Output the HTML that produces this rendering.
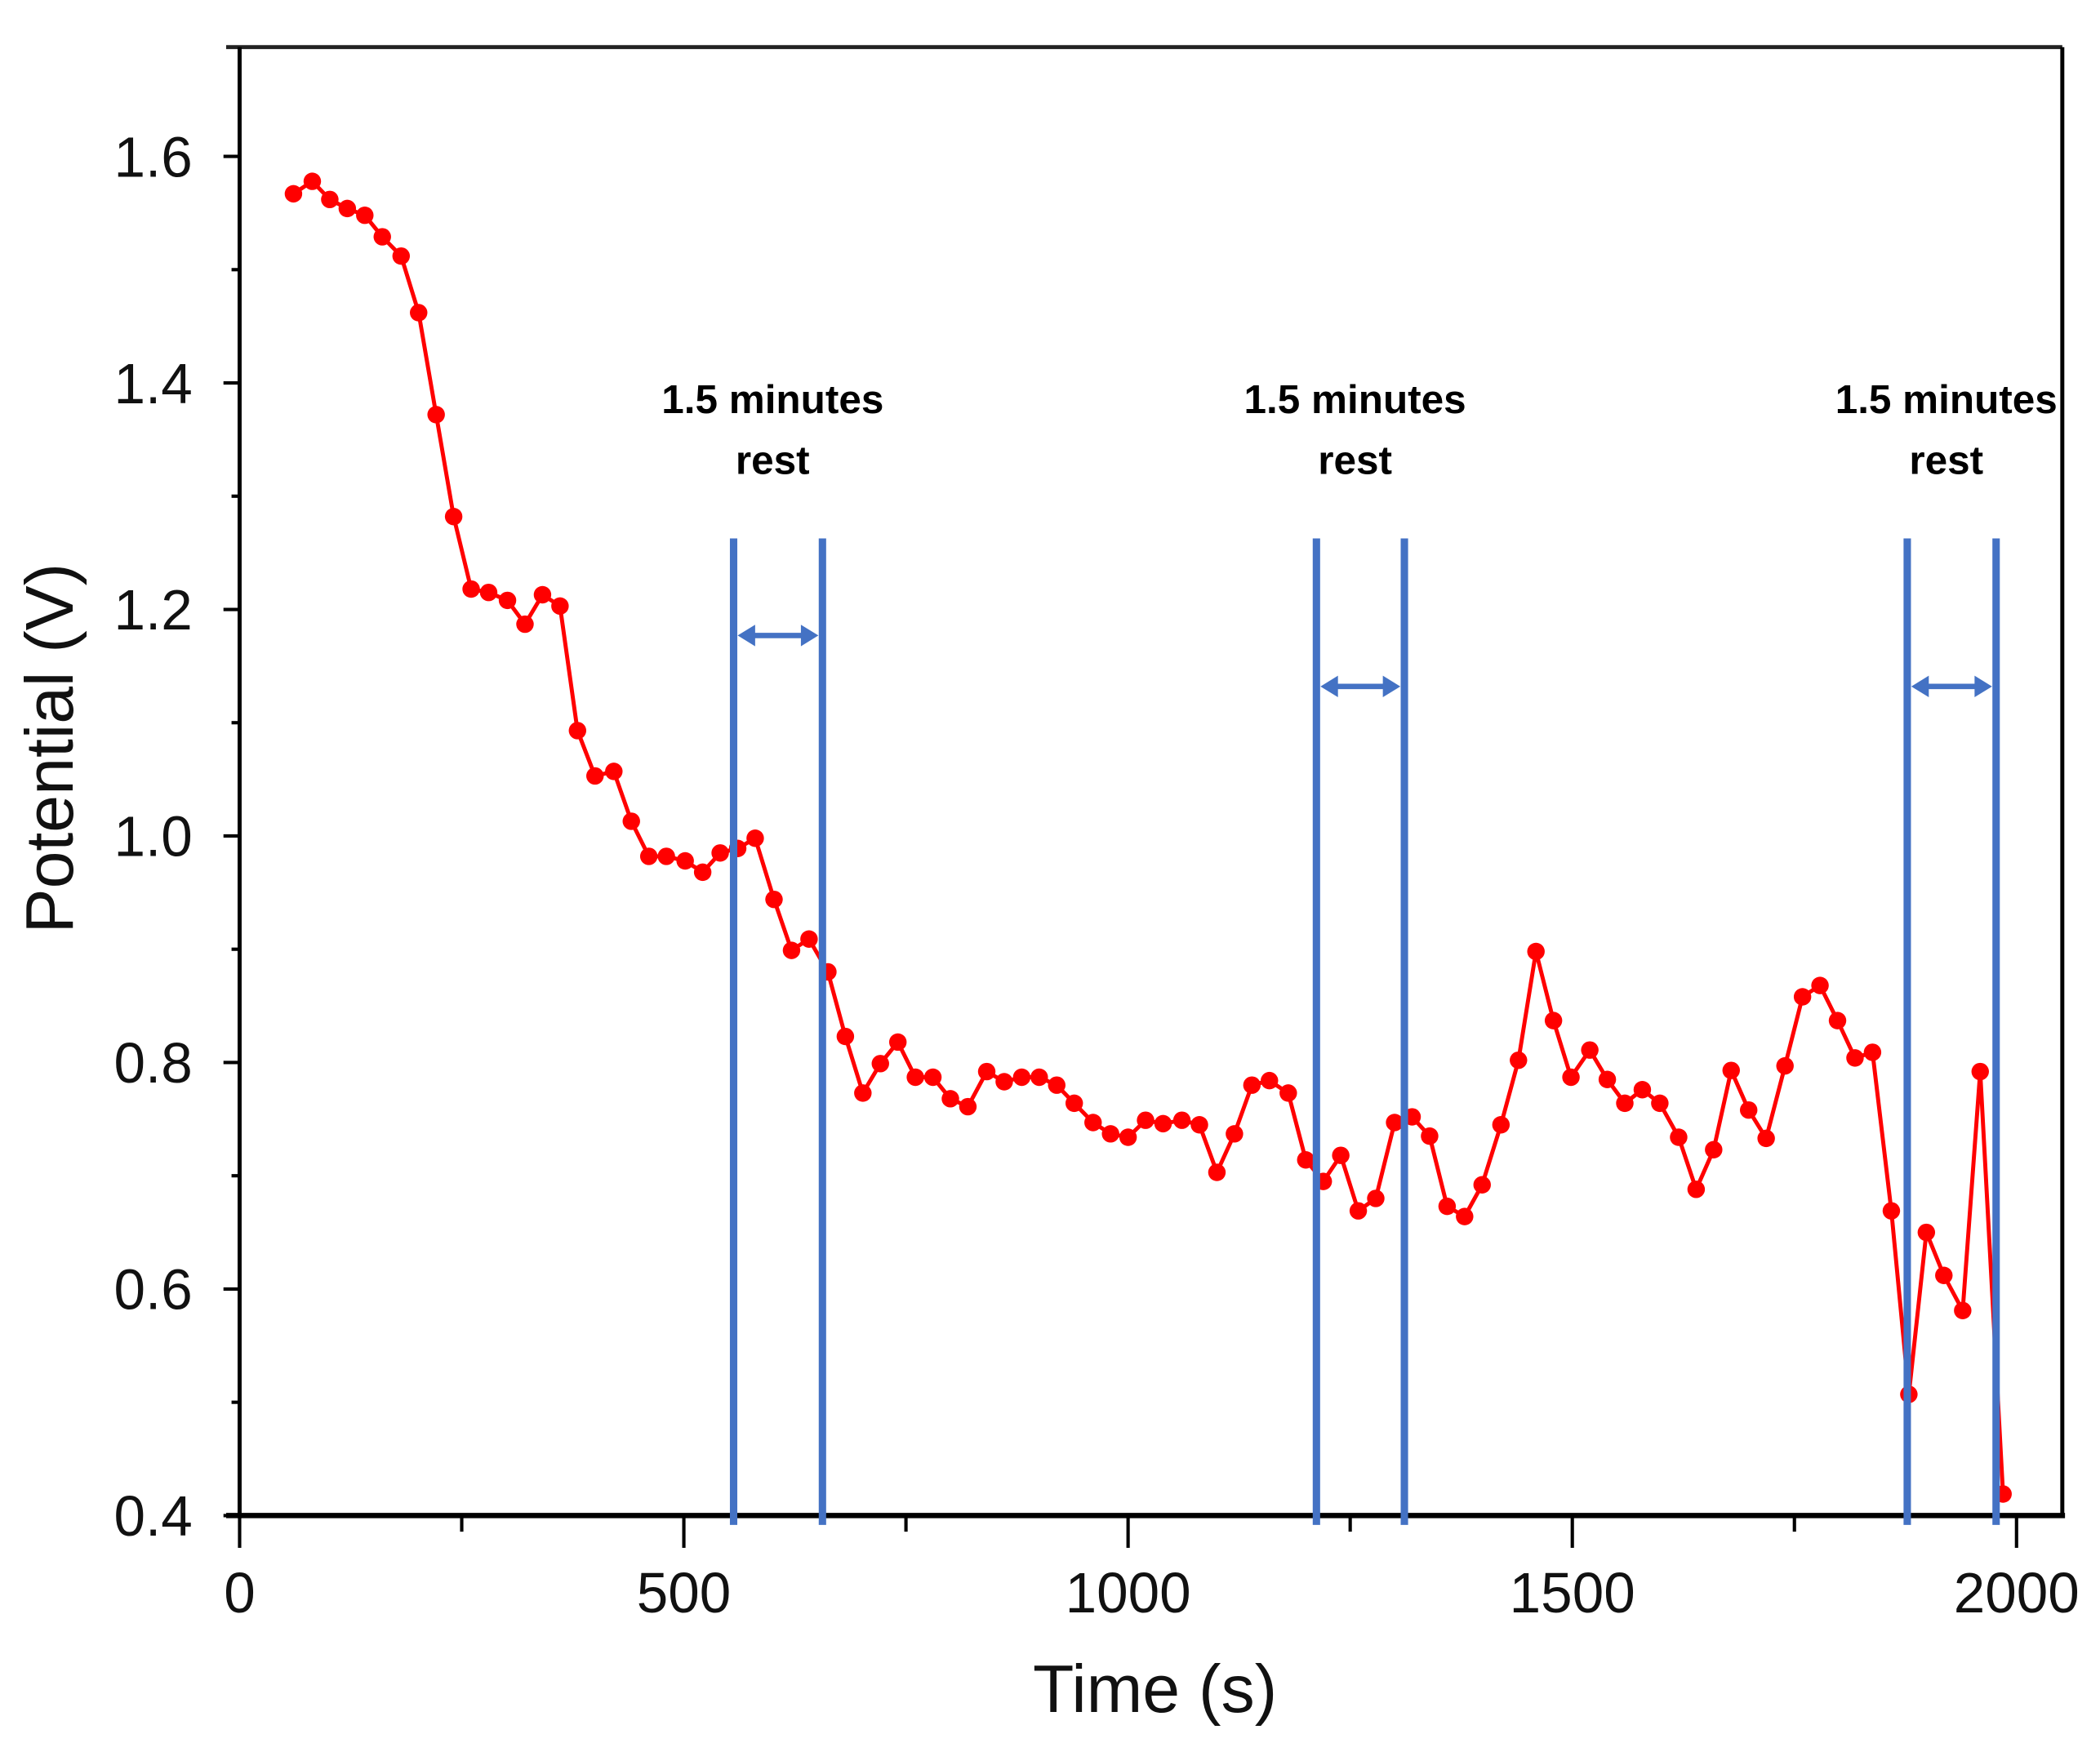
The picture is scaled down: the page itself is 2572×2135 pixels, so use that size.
<!DOCTYPE html>
<html><head><meta charset="utf-8">
<style>html,body{margin:0;padding:0;background:#fff;}svg{display:block;}</style>
</head><body>
<svg id="chart" width="2572" height="2135" viewBox="0 0 1560 1295" preserveAspectRatio="none" xmlns="http://www.w3.org/2000/svg">
<g id="marks"></g>
</svg>
<script>
const times = [60.6,81.8,101.5,121.2,140.9,160.6,181.8,201.5,221.2,240.9,260.6,280.3,301.5,321.2,340.9,360.6,380.3,400,421.2,440.9,460.6,480.3,501.5,521.2,540.9,560.6,580.3,601.5,621.2,640.9,662.1,681.8,701.5,721.2,740.9,760.6,780.3,800,819.7,840.9,860.6,880.3,900,919.7,939.4,960.6,980.3,1000,1019.7,1039.4,1060.6,1080.3,1100,1119.7,1139.4,1159.1,1180.3,1200,1219.7,1239.4,1259.1,1278.8,1300,1319.7,1339.4,1359.1,1378.8,1398.5,1419.7,1439.4,1459.1,1478.8,1498.5,1519.7,1539.4,1559.1,1578.8,1598.5,1619.7,1639.4,1659.1,1678.8,1698.5,1718.2,1739.4,1759.1,1778.8,1798.5,1818.2,1837.9,1859.1,1878.8,1898.5,1918.2,1939.4,1959.1,1984.8];
const potentials = [1.567,1.578,1.562,1.554,1.548,1.529,1.512,1.462,1.372,1.282,1.218,1.215,1.208,1.187,1.213,1.203,1.093,1.053,1.057,1.013,0.982,0.982,0.978,0.968,0.985,0.989,0.998,0.944,0.899,0.909,0.880,0.823,0.773,0.799,0.818,0.787,0.787,0.768,0.761,0.792,0.783,0.787,0.787,0.780,0.764,0.747,0.737,0.734,0.749,0.746,0.749,0.745,0.703,0.737,0.780,0.784,0.773,0.714,0.695,0.718,0.669,0.680,0.747,0.752,0.735,0.673,0.664,0.692,0.745,0.802,0.898,0.837,0.787,0.811,0.785,0.764,0.776,0.764,0.734,0.688,0.723,0.793,0.758,0.733,0.797,0.858,0.868,0.837,0.804,0.809,0.669,0.507,0.650,0.612,0.581,0.792,0.419];
const restStarts = [556,1212,1877];
const restEnds = [656,1311,1977];
const arrowLevels = [1.177,1.132,1.132];
const xTicks = [0,500,1000,1500,2000];
const yTicks = [0.4,0.6,0.8,1.0,1.2,1.4,1.6];

const NS='http://www.w3.org/2000/svg';
const g=document.getElementById('marks');
const L=178,R=1532,T=35,B=1126;
function xs(t){return 178+t*0.66;}
function ys(v){return 1126-(v-0.4)*841.5;}
function mk(tag,attrs,parent){const e=document.createElementNS(NS,tag);for(const k in attrs)e.setAttribute(k,attrs[k]);(parent||g).appendChild(e);return e;}

let e;
e=mk('line',{x1:168,y1:T,x2:R,y2:T,stroke:'#222','stroke-width':3});


e=mk('line',{x1:R,y1:T,x2:R,y2:B,stroke:'#000','stroke-width':3});


e=mk('line',{x1:L,y1:T,x2:L,y2:B+2,stroke:'#000','stroke-width':3});



for(let t=0;t<=2000;t+=250){
  const major=t%500===0;
  e=mk('line',{x1:xs(t),y1:B,x2:xs(t),y2:B+(major?24:12),stroke:'#000','stroke-width':2.5});
  
  
}
xTicks.forEach(t=>{
  e=mk('text',{x:xs(t),y:1198,'text-anchor':'middle','font-family':'Liberation Sans, sans-serif','font-size':42,fill:'#111'});
  e.textContent=t;
  
  
});
for(let i=0;i<=12;i++){
  const v=0.4+i*0.1;const major=i%2===0;
  e=mk('line',{x1:L,y1:ys(v),x2:L-(major?12:6),y2:ys(v),stroke:'#000','stroke-width':2.5});
  
  
}
yTicks.forEach(v=>{
  e=mk('text',{x:143,y:ys(v)+15,'text-anchor':'end','font-family':'Liberation Sans, sans-serif','font-size':42,fill:'#111'});
  e.textContent=v.toFixed(1);
  
  
});

const pts=times.map((t,i)=>xs(t)+','+ys(potentials[i])).join(' ');
e=mk('polyline',{points:pts,fill:'none',stroke:'#ff0000','stroke-width':3,'stroke-linejoin':'round'});


times.forEach((t,i)=>{
  const c=mk('circle',{cx:xs(t),cy:ys(potentials[i]),r:6.5,fill:'#ff0000'});
  
  
});

e=mk('line',{x1:168,y1:B,x2:R+2,y2:B,stroke:'#000','stroke-width':4});



restStarts.forEach((s,i)=>{
  const x1=xs(s),x2=xs(restEnds[i]),ya=ys(arrowLevels[i]);
  [x1,x2].forEach(x=>{
    const l=mk('line',{x1:x,y1:400,x2:x,y2:1133,stroke:'#4472c4','stroke-width':5.5});
    
    
  });
  const a=mk('line',{x1:x1+12,y1:ya,x2:x2-12,y2:ya,stroke:'#4472c4','stroke-width':4});
  
  
  const h1=mk('polygon',{points:`${x1+3},${ya} ${x1+16},${ya-8} ${x1+16},${ya+8}`,fill:'#4472c4'});
  
  
  const h2=mk('polygon',{points:`${x2-3},${ya} ${x2-16},${ya-8} ${x2-16},${ya+8}`,fill:'#4472c4'});
  
  
  const cx=(x1+x2)/2-4;
  const t1=mk('text',{x:cx,y:307,'text-anchor':'middle','font-family':'Liberation Sans, sans-serif','font-weight':'bold','font-size':30,fill:'#000'});
  t1.textContent='1.5 minutes';
  
  
  const t2=mk('text',{x:cx,y:352,'text-anchor':'middle','font-family':'Liberation Sans, sans-serif','font-weight':'bold','font-size':30,fill:'#000'});
  t2.textContent='rest';
  
  
});

e=mk('text',{x:858,y:1272,'text-anchor':'middle','font-family':'Liberation Sans, sans-serif','font-size':50,fill:'#111'});
e.textContent='Time (s)';


e=mk('text',{x:0,y:0,'text-anchor':'middle','font-family':'Liberation Sans, sans-serif','font-size':50,fill:'#111',transform:'translate(54,556) rotate(-90)'});
e.textContent='Potential (V)';


</script>
</body></html>
